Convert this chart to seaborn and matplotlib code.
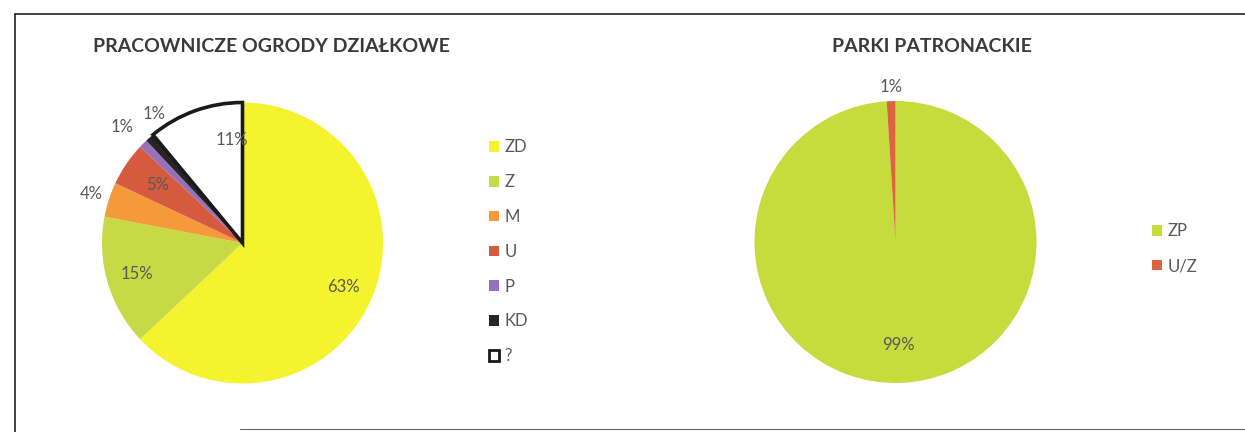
import numpy as np
import seaborn as sns
from matplotlib import pyplot as plt
from matplotlib.patches import Patch
from matplotlib.lines import Line2D

# data
left_title = "PRACOWNICZE OGRODY DZIAŁKOWE"
left_labels = ["ZD", "Z", "M", "U", "P", "KD", "?"]
left_values = [63, 15, 4, 5, 1, 1, 11]

right_title = "PARKI PATRONACKIE"
right_labels = ["ZP", "U/Z"]
right_values = [99, 1]

# styles
left_colors = ["#f5f22e", "#c6da45", "#f59a3a", "#d55a3e", "#9670b8", "#262626", "#ffffff"]
right_colors = ["#c5dc3c", "#de6340"]
left_dist = [0.78, 0.78, 1.13, 0.73, 1.19, 1.11, 0.74]
left_nudge = [0, 0, 0, 0, 1, -7, -14]   # degrees
right_dist = [0.73, 1.1]
txt_col = "#595959"

sns.set_theme(style="white")
plt.rcParams["font.family"] = ["Lato", "DejaVu Sans"]

fig = plt.figure(figsize=(12.45, 4.32), dpi=100)
W, H = 1245, 432


def _axes_at(cx, cy, r):
    """axes box (pixel coords from top-left) holding a unit pie"""
    return fig.add_axes([(cx - r) / W, (H - cy - r) / H, 2 * r / W, 2 * r / H])


def _pie(ax, values, colors, dist, nudge=None):
    wedges, _ = ax.pie(values, colors=colors, startangle=90, counterclock=False,
                       wedgeprops=dict(linewidth=0))
    total = sum(values)
    for i, w in enumerate(wedges):
        mid = (w.theta1 + w.theta2) / 2 + (nudge[i] if nudge else 0)
        x = dist[i] * np.cos(np.radians(mid))
        y = dist[i] * np.sin(np.radians(mid))
        ax.text(x, y, f"{round(values[i] / total * 100)}%", ha="center", va="center",
                fontsize=12, color=txt_col)
    ax.set_xlim(-1, 1)
    ax.set_ylim(-1, 1)
    ax.set_aspect("equal")
    ax.axis("off")
    return wedges


ax1 = _axes_at(242.5, 243, 140.5)
w1 = _pie(ax1, left_values, left_colors, left_dist, left_nudge)
w1[-1].set_edgecolor("#1a1a1a")
w1[-1].set_linewidth(2.6)
w1[-1].set_zorder(3)

ax2 = _axes_at(895.5, 242, 141)
_pie(ax2, right_values, right_colors, right_dist)

fig.text(271 / W, 1 - 47 / H, left_title, ha="center", va="center",
         fontsize=14, fontweight="bold", color="#3a3a3a")
fig.text(932 / W, 1 - 47 / H, right_title, ha="center", va="center",
         fontsize=14, fontweight="bold", color="#3a3a3a")

h1 = [Patch(facecolor=c, edgecolor=("#1a1a1a" if c == "#ffffff" else c),
            linewidth=(2 if c == "#ffffff" else 0)) for c in left_colors]
fig.legend(h1, left_labels, loc="upper left", bbox_to_anchor=(481 / W, 1 - 131 / H),
           frameon=False, fontsize=12, labelcolor=txt_col, handlelength=0.6,
           handleheight=0.6, handletextpad=0.3, labelspacing=1.13, borderpad=0)

h2 = [Patch(facecolor=c, linewidth=0) for c in right_colors]
fig.legend(h2, right_labels, loc="upper left", bbox_to_anchor=(1144 / W, 1 - 215 / H),
           frameon=False, fontsize=12, labelcolor=txt_col, handlelength=0.6,
           handleheight=0.6, handletextpad=0.3, labelspacing=1.12, borderpad=0)

# scanned frame
fig.add_artist(Line2D([15 / W, 15 / W], [0, 1 - 14 / H], color="#222222", lw=1.2))
fig.add_artist(Line2D([15 / W, 1], [1 - 14 / H, 1 - 14 / H], color="#222222", lw=1.2))
fig.add_artist(Line2D([240 / W, 1], [1 - 429 / H, 1 - 429 / H], color="#666666", lw=0.8))

fig.savefig("out.png", dpi=100, facecolor="white")
